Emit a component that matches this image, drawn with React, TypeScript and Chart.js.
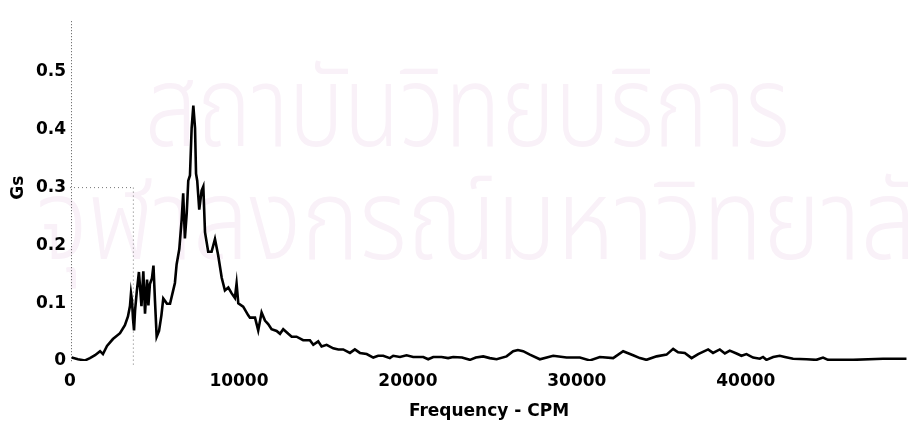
import { useEffect, useRef } from 'react';
import { Chart, registerables } from 'chart.js';

Chart.register(...registerables);

// Frequency (CPM) and amplitude (Gs) of the vibration spectrum
const FREQ_CPM = [
  100, 470, 890, 1180, 1480, 1780, 1950, 2190, 2540, 2960, 3250, 3430, 3550, 3610, 3670, 3730, 3790, 3850, 3950, 4080,
  4230, 4340, 4440, 4560, 4640, 4730, 4850, 4940, 5030, 5130, 5270, 5410, 5520, 5620, 5740, 5920, 6090, 6210, 6310, 6470,
  6610, 6700, 6800, 6910, 7000, 7100, 7200, 7300, 7400, 7460, 7530, 7650, 7790, 7890, 7990, 8180, 8380, 8580, 8770, 8980,
  9170, 9370, 9570, 9760, 9860, 9960, 10250, 10550, 10650, 10950, 11140, 11340, 11540, 11730, 11930, 12230, 12430, 12620, 12920, 13120,
  13410, 13800, 14200, 14400, 14690, 14890, 15190, 15580, 15880, 16170, 16570, 16860, 17160, 17560, 17950, 18240, 18540, 18930, 19130, 19530,
  19920, 20310, 20910, 21200, 21500, 21990, 22380, 22680, 23200, 23670, 24020, 24460, 24850, 25250, 25840, 26230, 26510, 26820, 27220, 27810,
  28600, 29390, 30180, 30770, 31360, 32150, 32740, 33330, 33730, 34120, 34720, 35310, 35700, 35990, 36390, 36790, 37180, 37770, 38060, 38460,
  38760, 39050, 39450, 39740, 40040, 40430, 40830, 41020, 41220, 41620, 42010, 42310, 42800, 43590, 44180, 44570, 44870, 46350, 48120, 49510,
];
const GS = [
  0.006, 0.003, 0.001, 0.005, 0.010, 0.017, 0.012, 0.026, 0.038, 0.048, 0.062, 0.077, 0.095, 0.117, 0.104, 0.073, 0.053, 0.087, 0.119, 0.154,
  0.095, 0.155, 0.082, 0.141, 0.096, 0.133, 0.143, 0.165, 0.104, 0.042, 0.052, 0.079, 0.108, 0.104, 0.099, 0.099, 0.120, 0.135, 0.167, 0.194,
  0.245, 0.290, 0.212, 0.256, 0.312, 0.321, 0.403, 0.442, 0.403, 0.324, 0.312, 0.262, 0.295, 0.302, 0.223, 0.189, 0.189, 0.211, 0.183, 0.144,
  0.122, 0.127, 0.117, 0.109, 0.134, 0.100, 0.094, 0.079, 0.075, 0.075, 0.053, 0.084, 0.070, 0.064, 0.055, 0.052, 0.047, 0.055, 0.047, 0.042,
  0.042, 0.036, 0.036, 0.028, 0.034, 0.025, 0.028, 0.022, 0.020, 0.020, 0.014, 0.020, 0.014, 0.012, 0.006, 0.009, 0.009, 0.005, 0.009, 0.007,
  0.010, 0.007, 0.007, 0.003, 0.007, 0.007, 0.005, 0.007, 0.006, 0.002, 0.006, 0.008, 0.005, 0.003, 0.008, 0.017, 0.019, 0.017, 0.011, 0.003,
  0.009, 0.006, 0.006, 0.001, 0.007, 0.005, 0.017, 0.010, 0.005, 0.002, 0.008, 0.011, 0.021, 0.015, 0.014, 0.005, 0.012, 0.020, 0.014, 0.020,
  0.013, 0.018, 0.013, 0.009, 0.012, 0.006, 0.004, 0.007, 0.002, 0.007, 0.009, 0.007, 0.004, 0.003, 0.002, 0.006, 0.002, 0.002, 0.004, 0.004,
];

const X_TICKS = [0, 10000, 20000, 30000, 40000];
const Y_TICKS = [0, 0.1, 0.2, 0.3, 0.4, 0.5];
const X_RANGE = [0, 49600];
const Y_RANGE = [0, 0.6];

const X_TITLE = 'Frequency - CPM';
const Y_TITLE = 'Gs';

// dotted cursor remnants (data units)
const CURSOR_FREQ = 3750;
const CURSOR_GS = 0.3;

const WATERMARK_LINES = ['สถาบันวิทยบริการ', 'จุฬาลงกรณ์มหาวิทยาลัย'];

const FONT = "'DejaVu Sans', 'Liberation Sans', sans-serif";
const THAI_FONT = "'Noto Sans Thai', 'Noto Sans Thai UI', 'Loma', 'Garuda', 'Noto Sans', 'DejaVu Sans', sans-serif";

const watermarkPlugin = {
  id: 'watermark',
  beforeDraw(chart: any) {
    const ctx = chart.ctx as CanvasRenderingContext2D;
    ctx.save();
    ctx.fillStyle = '#ffffff';
    ctx.fillRect(0, 0, chart.width, chart.height);
    ctx.fillStyle = '#f9f1f8';
    ctx.textBaseline = 'alphabetic';
    ctx.textAlign = 'left';
    const boxes = [
      { left: 145, right: 790, base: 146 },
      { left: 36, right: 975, base: 259 },
    ];
    WATERMARK_LINES.forEach((text, i) => {
      const b = boxes[i];
      ctx.font = `300 112px ${THAI_FONT}`;
      const w = ctx.measureText(text).width || 1;
      ctx.save();
      ctx.translate(b.left, b.base);
      ctx.scale((b.right - b.left) / w, 1);
      ctx.fillText(text, 0, 0);
      ctx.restore();
    });
    ctx.restore();
  },
};

const dottedAxisPlugin = {
  id: 'dottedAxis',
  beforeDatasetsDraw(chart: any) {
    const { ctx, scales, chartArea } = chart;
    const xs = scales.x;
    const ys = scales.y;
    const x0 = xs.getPixelForValue(0);
    const xc = xs.getPixelForValue(CURSOR_FREQ);
    const yc = ys.getPixelForValue(CURSOR_GS);
    const y0 = ys.getPixelForValue(0);
    ctx.save();
    ctx.lineWidth = 1;
    // dotted y axis
    ctx.strokeStyle = '#555';
    ctx.setLineDash([1, 2]);
    ctx.beginPath();
    ctx.moveTo(Math.round(chartArea.left) + 1.5, chartArea.top + 7);
    ctx.lineTo(Math.round(chartArea.left) + 1.5, y0 + 2);
    ctx.stroke();
    // faint cursor remnant
    ctx.strokeStyle = '#777';
    ctx.setLineDash([1, 3]);
    ctx.beginPath();
    ctx.moveTo(x0, yc);
    ctx.lineTo(xc, yc);
    ctx.moveTo(xc, yc);
    ctx.lineTo(xc, y0 + 4);
    ctx.stroke();
    ctx.restore();
  },
};

export default function App() {
  const canvasRef = useRef<HTMLCanvasElement | null>(null);

  useEffect(() => {
    const canvas = canvasRef.current;
    if (!canvas) return;
    const data = FREQ_CPM.map((f, i) => ({ x: f, y: GS[i] }));
    const chart = new Chart(canvas, {
      type: 'line',
      data: {
        datasets: [
          {
            data,
            borderColor: '#000000',
            borderWidth: 2.6,
            pointRadius: 0,
            tension: 0,
            fill: false,
          },
        ],
      },
      plugins: [watermarkPlugin, dottedAxisPlugin],
      options: {
        animation: false,
        responsive: false,
        maintainAspectRatio: false,
        layout: { padding: { top: 5, right: 0, bottom: 0, left: 0 } },
        plugins: {
          legend: { display: false },
          tooltip: { enabled: false },
        },
        scales: {
          x: {
            type: 'linear',
            min: X_RANGE[0],
            max: X_RANGE[1],
            grid: { display: false, drawTicks: false },
            border: { display: false },
            afterBuildTicks: (s: any) => {
              s.ticks = X_TICKS.map((v) => ({ value: v }));
            },
            afterFit: (s: any) => {
              s.height = 61;
            },
            ticks: {
              autoSkip: false,
              maxRotation: 0,
              padding: 10,
              color: '#000',
              font: { family: FONT, weight: 'bold', size: 17 },
              callback: (v: any) => String(v),
            },
            title: {
              display: true,
              text: X_TITLE,
              color: '#000',
              font: { family: FONT, weight: 'bold', size: 17 },
              padding: { top: 0, bottom: 0 },
            },
          },
          y: {
            type: 'linear',
            min: Y_RANGE[0],
            max: Y_RANGE[1],
            grid: { display: false, drawTicks: false },
            border: { display: false },
            afterBuildTicks: (s: any) => {
              s.ticks = Y_TICKS.map((v) => ({ value: v }));
            },
            afterFit: (s: any) => {
              s.width = 70;
            },
            ticks: {
              padding: 4,
              color: '#000',
              font: { family: FONT, weight: 'bold', size: 17 },
              callback: (v: any) => String(Math.round(Number(v) * 10) / 10),
            },
            title: {
              display: true,
              text: Y_TITLE,
              color: '#000',
              font: { family: FONT, weight: 'bold', size: 17 },
              padding: { top: 8, bottom: 0 },
            },
          },
        },
      },
    } as any);
    return () => chart.destroy();
  }, []);

  return (
    <div style={{ position: 'absolute', left: 0, top: 0, width: 908, height: 422, background: '#fff' }}>
      <canvas ref={canvasRef} width={908} height={422} style={{ display: 'block', width: 908, height: 422 }} />
    </div>
  );
}
